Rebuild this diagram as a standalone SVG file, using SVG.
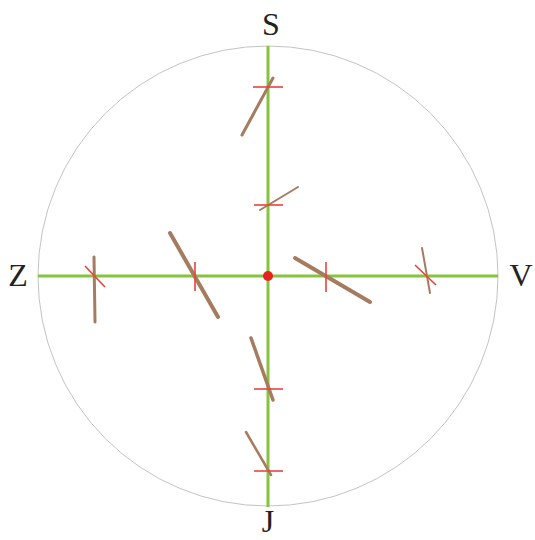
<svg xmlns="http://www.w3.org/2000/svg" width="535" height="540" viewBox="0 0 535 540">
<style>
.ax{stroke:#86c440;stroke-width:3;fill:none}
.br{stroke:#a67c60;stroke-linecap:round;fill:none}
.tk{stroke:#e8443a;stroke-width:1.6;fill:none}
.lb{font-family:"Liberation Serif",serif;font-size:32px;fill:#222;text-anchor:middle}
</style>
<rect width="535" height="540" fill="#fff"/>
<circle id="frame" cx="268" cy="276" r="230" fill="none" stroke="#c4c4c4" stroke-width="1"/>
<g id="axes">
<line class="ax" x1="38" y1="276" x2="498" y2="276"/>
<line class="ax" x1="268" y1="46" x2="268" y2="507"/>
</g>
<g id="m1"><line class="br" stroke-width="3" x1="273" y1="78" x2="242" y2="135"/><line class="tk" x1="253" y1="87" x2="283" y2="87"/></g>
<g id="m2"><line class="br" stroke-width="2" x1="298" y1="187" x2="260" y2="210"/><line class="tk" x1="254" y1="205" x2="283" y2="205"/></g>
<g id="m3"><line class="br" stroke-width="3.5" x1="251" y1="338" x2="273" y2="400"/><line class="tk" x1="254" y1="389" x2="283" y2="389"/></g>
<g id="m4"><line class="br" stroke-width="2.5" x1="246" y1="432" x2="271" y2="475"/><line class="tk" x1="254" y1="471" x2="283" y2="471"/></g>
<g id="m5"><line class="br" stroke-width="3" x1="94" y1="257" x2="95" y2="322"/><line class="tk" x1="85" y1="266" x2="105" y2="287"/></g>
<g id="m6"><line class="br" stroke-width="4" x1="170" y1="233" x2="218" y2="317"/><line class="tk" x1="195" y1="262" x2="195" y2="291"/></g>
<g id="m7"><line class="br" stroke-width="4" x1="295" y1="258" x2="370" y2="302"/><line class="tk" x1="326" y1="262" x2="326" y2="292"/></g>
<g id="m8"><line class="br" stroke-width="2" x1="422" y1="248" x2="430" y2="293"/><line class="tk" x1="415" y1="265" x2="436" y2="285"/></g>
<g id="center"><circle cx="268" cy="276" r="5" fill="#e8221c"/></g>
<g id="labels">
<text class="lb" x="271" y="35">S</text>
<text class="lb" x="18" y="286">Z</text>
<text class="lb" x="521" y="286">V</text>
<text class="lb" x="268" y="532">J</text>
</g>
</svg>
